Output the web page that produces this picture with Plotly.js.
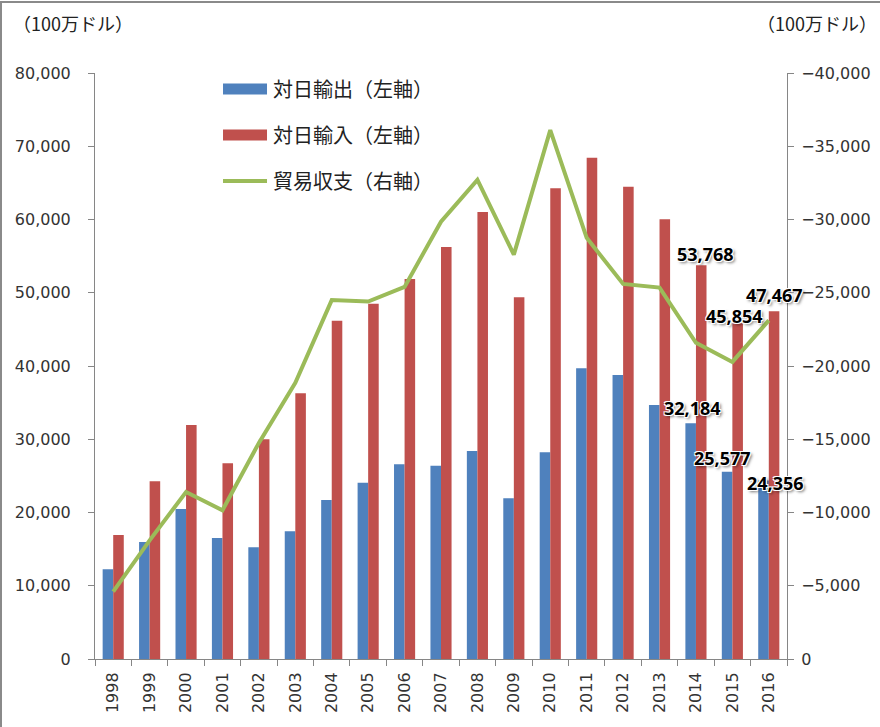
<!DOCTYPE html>
<html>
<head>
<meta charset="utf-8">
<script src="https://cdn.plot.ly/plotly-3.0.1.min.js"></script>
<style>
  html, body { margin: 0; padding: 0; background: #fff; }
  #wrap { position: relative; width: 880px; height: 727px; }
  #chart { width: 880px; height: 727px; }
  #frame { position: absolute; left: 0px; top: 1px; width: 900px; height: 760px;
           border-left: 2px solid #8a8a8a; border-top: 2px solid #8a8a8a; pointer-events: none; }
</style>
</head>
<body>
<div id="wrap">
  <div id="chart"></div>
  <div id="frame"></div>
</div>
<script>
// ---- data ----
const years = ['1998','1999','2000','2001','2002','2003','2004','2005','2006','2007',
               '2008','2009','2010','2011','2012','2013','2014','2015','2016'];
const exportsToJapan = [12250, 15970, 20480, 16520, 15250, 17430, 21710, 24070, 26580, 26390,
                        28400, 21940, 28210, 39680, 38770, 34680, 32184, 25577, 24356];
const importsFromJapan = [16930, 24260, 31950, 26720, 29990, 36270, 46190, 48510, 51880, 56250,
                          61020, 49380, 64260, 68440, 64480, 60020, 53768, 45854, 47467];
const tradeBalance = [-4600, -8100, -11400, -10150, -14750, -18850, -24500, -24400, -25400, -29850,
                      -32700, -27600, -36100, -28750, -25600, -25350, -21584, -20277, -23111];
const seriesNames = ['対日輸出（左軸）', '対日輸入（左軸）', '貿易収支（右軸）'];
const unitLabel = '（100万ドル）';
const labeledYears = ['2014', '2015', '2016'];

// ---- styles ----
const colors = ['#4F81BD', '#C0504D', '#9BBB59'];
const tickFont = { family: 'DejaVu Sans, sans-serif', size: 16, color: '#333333' };
const jpFont = 'Noto Sans CJK JP, sans-serif';
const axisLine = '#868686';
// offsets (px) of data labels relative to bar tops: [xshift, yshift]
const exportLabelShift = [[-3, 15], [-10, 14], [7, -2]];
const importLabelShift = [[10, 11], [2, 7], [6, 16]];

const traces = [
  { type: 'bar', name: seriesNames[0], x: years, y: exportsToJapan, yaxis: 'y',
    marker: { color: colors[0] }, legendgroup: 'a', hoverinfo: 'x+y' },
  { type: 'bar', name: seriesNames[1], x: years, y: importsFromJapan, yaxis: 'y',
    marker: { color: colors[1] }, legendgroup: 'b', hoverinfo: 'x+y' },
  { type: 'scatter', mode: 'lines', name: seriesNames[2], x: years, y: tradeBalance, yaxis: 'y2',
    line: { color: colors[2], width: 4 }, legendgroup: 'c', hoverinfo: 'x+y' }
];

const labelFont = { family: 'Noto Sans, sans-serif', size: 18, weight: 700, color: '#000',
  shadow: '1px 1px 0px #ffffff, -1px -1px 0px #ffffff, 1px -1px 0px #ffffff, -1px 1px 0px #ffffff, 2px 2px 3px rgba(0,0,0,0.55)' };

const annotations = [];
labeledYears.forEach(function (yr, k) {
  const i = years.indexOf(yr);   // category axis: annotation x is the category index
  annotations.push({ x: i, y: exportsToJapan[i], xref: 'x', yref: 'y', showarrow: false,
    text: exportsToJapan[i].toLocaleString('en-US'), font: labelFont,
    xanchor: 'center', yanchor: 'middle', xshift: exportLabelShift[k][0], yshift: exportLabelShift[k][1] });
  annotations.push({ x: i, y: importsFromJapan[i], xref: 'x', yref: 'y', showarrow: false,
    text: importsFromJapan[i].toLocaleString('en-US'), font: labelFont,
    xanchor: 'center', yanchor: 'middle', xshift: importLabelShift[k][0], yshift: importLabelShift[k][1] });
});
annotations.push({ xref: 'paper', yref: 'paper', x: -0.121, y: 1.086, xanchor: 'left', yanchor: 'middle',
  showarrow: false, text: unitLabel, font: { family: jpFont, size: 18, color: '#222' } });
annotations.push({ xref: 'paper', yref: 'paper', x: 1.133, y: 1.086, xanchor: 'right', yanchor: 'middle',
  showarrow: false, text: unitLabel, font: { family: jpFont, size: 18, color: '#222' } });

const layout = {
  width: 880, height: 727,
  margin: { l: 95, r: 93, t: 73, b: 68, pad: 0 },
  paper_bgcolor: '#ffffff', plot_bgcolor: '#ffffff',
  barmode: 'group', bargap: 0.42, bargroupgap: 0,
  showlegend: true,
  legend: { x: 0.1821, y: 1.006, xanchor: 'left', yanchor: 'top', traceorder: 'grouped',
    itemwidth: 42, tracegroupgap: 17, bgcolor: 'rgba(0,0,0,0)',
    font: { family: jpFont, size: 20, color: '#222' } },
  xaxis: { type: 'category', range: [-0.5, years.length - 0.5], autorange: false,
    showline: true, linecolor: axisLine, linewidth: 1,
    ticks: 'outside', tickson: 'boundaries', ticklen: 6, tickcolor: axisLine,
    tickangle: -90, tickfont: tickFont, showgrid: false, zeroline: false, ticklabelstandoff: 6 },
  yaxis: { range: [0, 80000], dtick: 10000, tickformat: ',', showline: true, linecolor: axisLine,
    ticks: 'outside', ticklen: 6, tickcolor: axisLine, tickfont: tickFont, showgrid: false,
    zeroline: false, ticklabelstandoff: 14 },
  yaxis2: { range: [0, -40000], dtick: 5000, tickformat: ',', overlaying: 'y', side: 'right',
    showline: true, linecolor: axisLine, ticks: 'outside', ticklen: 6, tickcolor: axisLine,
    tickfont: tickFont, showgrid: false, zeroline: false, ticklabelstandoff: 4 },
  annotations: annotations
};

const gd = document.getElementById('chart');
Plotly.newPlot(gd, traces, layout, { displayModeBar: false, responsive: false }).then(function () {
  // reshape legend symbols to Excel-like wide swatches
  const ns = 'http://www.w3.org/2000/svg';
  const items = gd.querySelectorAll('.legend .traces');
  items.forEach(function (g, i) {
    const text = g.querySelector('text.legendtext');
    let tx = parseFloat(text.getAttribute('x'));
    try { tx = text.getBBox().x; } catch (e) {}
    if (!isFinite(tx)) tx = 52;
    g.querySelectorAll('.legendpoints path, .legendlines path, .legendfill path').forEach(function (p) {
      p.style.display = 'none';
    });
    const x1 = tx - 6, x0 = Math.max(1, x1 - 44);
    const p = document.createElementNS(ns, 'path');
    if (i < 2) {
      p.setAttribute('d', 'M' + x0 + ',-5.5H' + x1 + 'V5.5H' + x0 + 'Z');
      p.setAttribute('fill', colors[i]);
    } else {
      p.setAttribute('d', 'M' + x0 + ',0H' + x1);
      p.setAttribute('stroke', colors[2]);
      p.setAttribute('stroke-width', '4');
      p.setAttribute('fill', 'none');
    }
    g.appendChild(p);
  });
});
</script>
</body>
</html>
